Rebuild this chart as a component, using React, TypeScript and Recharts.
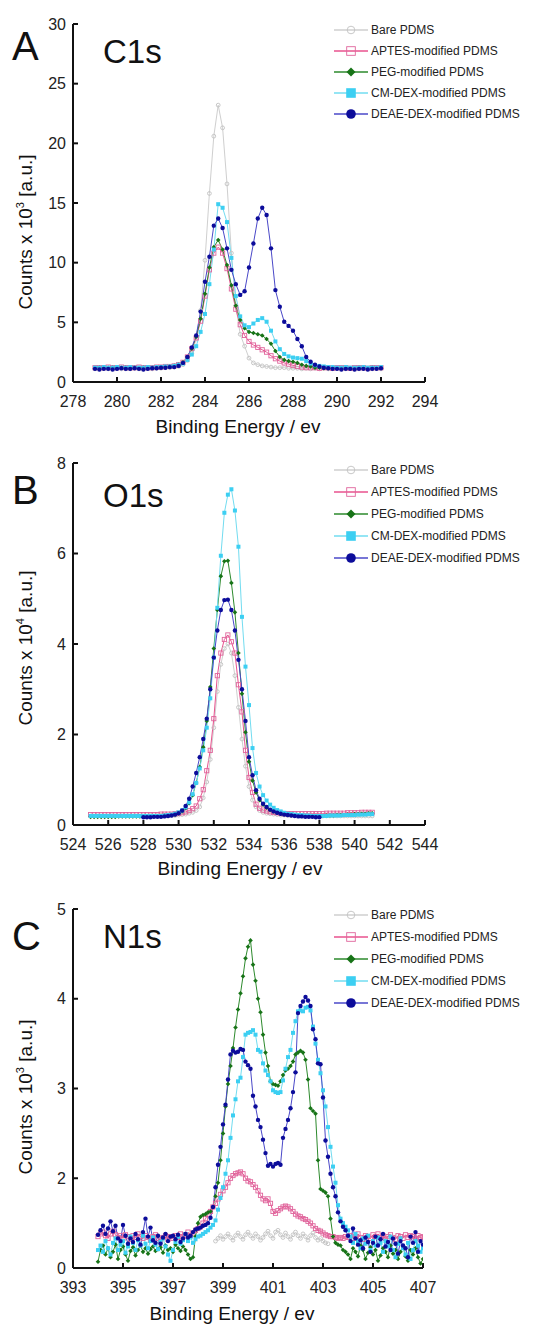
import React from 'react';
import { LineChart, Line, XAxis, YAxis, Legend } from 'recharts';

const FONT = '"Liberation Sans", Arial, Helvetica, sans-serif';

const SERIES_KEYS = ['bare', 'aptes', 'peg', 'cm', 'deae'];
const SERIES_NAMES = [
  'Bare PDMS',
  'APTES-modified PDMS',
  'PEG-modified PDMS',
  'CM-DEX-modified PDMS',
  'DEAE-DEX-modified PDMS',
];

// ---------- Panel A : C1s ----------
const A_X_START = 279;
const A_X_END = 292;
const A_STEP = 0.2;
const A_X_TICKS = [278, 280, 282, 284, 286, 288, 290, 292, 294];
const A_Y_TICKS = [0, 5, 10, 15, 20, 25, 30];
const aBare = [
  1.1, 1.1, 1.15, 1.1, 1.1, 1.15, 1.1, 1.1, 1.1, 1.15,
  1.1, 1.1, 1.15, 1.1, 1.15, 1.15, 1.2, 1.2, 1.25, 1.3,
  1.45, 1.8, 2.4, 3.6, 6.0, 10.2, 15.8, 20.6, 23.2, 21.3,
  16.6, 10.8, 6.4, 4.0, 3.0, 2.0, 1.6, 1.45, 1.35, 1.3,
  1.25, 1.2, 1.2, 1.2, 1.15, 1.15, 1.15, 1.1, 1.15, 1.1,
  1.15, 1.1, 1.15, 1.1, 1.1, 1.15, 1.1, 1.1, 1.15, 1.1,
  1.1, 1.15, 1.1, 1.1, 1.15, 1.1,
];
const aAptes = [
  1.2, 1.2, 1.2, 1.25, 1.2, 1.2, 1.25, 1.2, 1.2, 1.2,
  1.25, 1.2, 1.2, 1.2, 1.25, 1.25, 1.3, 1.3, 1.35, 1.45,
  1.65, 2.1, 2.8, 3.7, 5.1, 7.2, 9.4, 10.8, 11.3, 10.8,
  9.5, 7.8, 6.1, 4.8, 3.9, 3.4, 3.1, 2.9, 2.7, 2.5,
  2.2, 1.95, 1.75, 1.6, 1.5, 1.4, 1.3, 1.25, 1.2, 1.2,
  1.2, 1.15, 1.2, 1.2, 1.15, 1.2, 1.2, 1.2, 1.15, 1.2,
  1.2, 1.2, 1.15, 1.2, 1.2, 1.2,
];
const aPeg = [
  1.15, 1.2, 1.15, 1.2, 1.2, 1.15, 1.2, 1.2, 1.15, 1.2,
  1.2, 1.2, 1.15, 1.2, 1.2, 1.25, 1.25, 1.3, 1.35, 1.45,
  1.65, 2.1, 2.8, 3.8, 5.3, 7.4, 9.6, 11.3, 11.9, 11.1,
  9.8, 8.1, 6.4, 5.2, 4.5, 4.2, 4.1, 4.0, 3.9, 3.6,
  3.2, 2.6, 2.1, 1.85, 1.75, 1.7, 1.6, 1.45, 1.35, 1.3,
  1.2, 1.2, 1.15, 1.15, 1.2, 1.15, 1.15, 1.2, 1.15, 1.15,
  1.2, 1.15, 1.15, 1.2, 1.15, 1.2,
];
const aCm = [
  1.2, 1.2, 1.25, 1.2, 1.2, 1.25, 1.2, 1.2, 1.25, 1.2,
  1.2, 1.2, 1.25, 1.2, 1.25, 1.25, 1.3, 1.3, 1.35, 1.45,
  1.55, 1.85, 2.3, 3.0, 4.2, 5.7, 8.2, 11.1, 14.9, 14.6,
  13.4, 10.4, 7.2, 5.5, 4.75, 4.6, 4.9, 5.2, 5.35, 5.05,
  4.3, 3.4, 2.75, 2.35, 2.15, 2.05, 2.0, 1.95, 1.75, 1.55,
  1.4, 1.35, 1.3, 1.25, 1.25, 1.2, 1.2, 1.25, 1.2, 1.2,
  1.2, 1.25, 1.2, 1.2, 1.2, 1.25,
];
const aDeae = [
  1.1, 1.05, 1.1, 1.1, 1.05, 1.1, 1.15, 1.1, 1.1, 1.15,
  1.1, 1.05, 1.1, 1.15, 1.15, 1.2, 1.2, 1.25, 1.25, 1.35,
  1.6, 2.1, 2.9, 3.9, 5.9, 8.4, 10.5, 13.1, 13.7, 12.9,
  11.2, 9.4, 8.2, 7.3, 7.6, 9.6, 11.6, 13.7, 14.6, 14.0,
  11.2, 7.7, 6.3, 5.05, 4.7, 4.3, 3.6, 3.0, 2.1, 1.7,
  1.45, 1.3, 1.2, 1.15, 1.1, 1.1, 1.05, 1.1, 1.1, 1.05,
  1.1, 1.1, 1.05, 1.1, 1.1, 1.15,
];

// ---------- Panel B : O1s ----------
const B_X_START = 525;
const B_X_END = 541;
const B_STEP = 0.2;
const B_DEAE_START = 528;
const B_X_TICKS = [524, 526, 528, 530, 532, 534, 536, 538, 540, 542, 544];
const B_Y_TICKS = [0, 2, 4, 6, 8];
const bBare = [
  0.2, 0.2, 0.2, 0.2, 0.2, 0.2, 0.2, 0.2, 0.2, 0.2,
  0.2, 0.2, 0.2, 0.2, 0.2, 0.2, 0.2, 0.2, 0.2, 0.2,
  0.2, 0.2, 0.2, 0.21, 0.21, 0.22, 0.23, 0.24, 0.26, 0.28,
  0.32, 0.4, 0.6, 0.95, 1.45, 2.15, 2.95, 3.55, 3.9, 4.0,
  3.8, 3.3, 2.6, 1.9, 1.3, 0.85, 0.55, 0.4, 0.32, 0.28,
  0.26, 0.25, 0.24, 0.23, 0.22, 0.22, 0.21, 0.21, 0.21, 0.21,
  0.2, 0.2, 0.2, 0.2, 0.2, 0.2, 0.2, 0.2, 0.2, 0.2,
  0.2, 0.2, 0.2, 0.2, 0.2, 0.2, 0.2, 0.2, 0.2, 0.2,
  0.2,
];
const bAptes = [
  0.23, 0.23, 0.23, 0.23, 0.23, 0.23, 0.23, 0.23, 0.23, 0.23,
  0.23, 0.23, 0.23, 0.23, 0.23, 0.23, 0.23, 0.23, 0.23, 0.23,
  0.24, 0.24, 0.24, 0.24, 0.25, 0.26, 0.27, 0.29, 0.32, 0.36,
  0.42, 0.58, 0.78, 1.2, 1.65, 2.35, 3.3, 3.8, 4.1, 4.2,
  4.05, 3.8, 3.1, 2.5, 1.65, 1.05, 0.72, 0.46, 0.37, 0.33,
  0.31, 0.29, 0.28, 0.27, 0.26, 0.25, 0.25, 0.25, 0.25, 0.25,
  0.25, 0.25, 0.25, 0.25, 0.25, 0.25, 0.25, 0.26, 0.26, 0.26,
  0.26, 0.26, 0.26, 0.27, 0.27, 0.27, 0.27, 0.28, 0.28, 0.28,
  0.28,
];
const bPeg = [
  0.18, 0.18, 0.18, 0.18, 0.18, 0.18, 0.18, 0.18, 0.19, 0.19,
  0.19, 0.19, 0.19, 0.19, 0.19, 0.19, 0.19, 0.2, 0.2, 0.2,
  0.2, 0.21, 0.21, 0.22, 0.23, 0.26, 0.3, 0.37, 0.48, 0.66,
  0.93, 1.28, 1.72, 2.3, 3.05, 3.9, 4.75, 5.5, 5.83, 5.84,
  5.35, 4.7, 3.8, 2.9, 2.05, 1.4, 0.98, 0.72, 0.55, 0.45,
  0.38, 0.33, 0.3, 0.27, 0.25, 0.24, 0.23, 0.22, 0.21, 0.21,
  0.2, 0.2, 0.2, 0.2, 0.2, 0.2, 0.2, 0.21, 0.21, 0.21,
  0.22, 0.22, 0.22, 0.23, 0.23, 0.24, 0.24, 0.25, 0.25, 0.26,
  0.26,
];
const bCm = [
  0.2, 0.2, 0.2, 0.2, 0.2, 0.2, 0.2, 0.2, 0.2, 0.2,
  0.2, 0.2, 0.2, 0.2, 0.2, 0.2, 0.2, 0.2, 0.2, 0.2,
  0.2, 0.21, 0.22, 0.23, 0.25, 0.28, 0.32, 0.39, 0.5, 0.68,
  0.93, 1.25, 1.65, 2.15, 2.8, 3.7, 4.8, 5.95, 6.9, 7.3,
  7.42, 6.95, 6.15, 4.6, 3.5, 2.65, 1.7, 1.15, 0.85, 0.66,
  0.54, 0.45, 0.38, 0.33, 0.3, 0.27, 0.25, 0.24, 0.23, 0.22,
  0.22, 0.21, 0.21, 0.2, 0.2, 0.2, 0.2, 0.2, 0.21, 0.21,
  0.21, 0.21, 0.22, 0.22, 0.22, 0.22, 0.23, 0.23, 0.23, 0.24,
  0.24,
];
const bDeae = [
  0.17, 0.17, 0.17, 0.18, 0.18, 0.18, 0.19, 0.2, 0.21, 0.23,
  0.26, 0.32, 0.42, 0.58, 0.85, 1.15, 1.5, 1.9, 2.35, 3.0,
  3.7, 4.3, 4.75, 4.97, 4.98, 4.75, 4.3, 3.65, 3.0, 2.3,
  1.5, 1.1, 0.77, 0.58, 0.47, 0.4, 0.34, 0.3, 0.27, 0.25,
  0.23, 0.22, 0.21, 0.2, 0.19, 0.19, 0.18, 0.18, 0.18, 0.17,
  0.17,
];

// ---------- Panel C : N1s ----------
const C_X_START = 394;
const C_X_END = 407;
const C_STEP = 0.1;
const C_BARE_START = 398.7;
const C_X_TICKS = [393, 395, 397, 399, 401, 403, 405, 407];
const C_Y_TICKS = [1, 2, 3, 4, 5];
const C_Y_TICK_LABELS = ['0', '2', '3', '4', '5'];
const cBare = [
  1.30, 1.33, 1.36, 1.32, 1.35, 1.38, 1.34, 1.31, 1.36, 1.39,
  1.35, 1.32, 1.37, 1.40, 1.36, 1.33, 1.38, 1.35, 1.31, 1.34,
  1.38, 1.41, 1.36, 1.33, 1.40, 1.42, 1.37, 1.34, 1.39, 1.35,
  1.32, 1.37, 1.40, 1.36, 1.33, 1.38, 1.35, 1.31, 1.36, 1.39,
  1.34, 1.31, 1.33, 1.30, 1.28, 1.27,
];
const cAptes = [
  1.35, 1.38, 1.40, 1.36, 1.33, 1.38, 1.41, 1.37, 1.34, 1.36,
  1.33, 1.37, 1.35, 1.32, 1.36, 1.34, 1.38, 1.35, 1.33, 1.36,
  1.34, 1.31, 1.35, 1.37, 1.33, 1.30, 1.34, 1.36, 1.32, 1.35,
  1.33, 1.36, 1.34, 1.38, 1.35, 1.37, 1.40, 1.36, 1.39, 1.42,
  1.44, 1.46, 1.50, 1.55, 1.60, 1.63, 1.68, 1.72, 1.77, 1.82,
  1.86, 1.90, 1.95, 2.00, 2.03, 2.05, 2.06, 2.07, 2.05, 2.00,
  1.97, 1.96, 1.93, 1.90, 1.86, 1.81, 1.77, 1.75, 1.77, 1.72,
  1.63, 1.61, 1.64, 1.66, 1.68, 1.69, 1.68, 1.66, 1.63, 1.60,
  1.58, 1.57, 1.55, 1.54, 1.52, 1.50, 1.47, 1.44, 1.42, 1.41,
  1.39, 1.37, 1.36, 1.35, 1.35, 1.34, 1.33, 1.34, 1.33, 1.35,
  1.34, 1.36, 1.33, 1.35, 1.38, 1.34, 1.32, 1.36, 1.35, 1.33,
  1.37, 1.35, 1.38, 1.34, 1.36, 1.33, 1.35, 1.37, 1.34, 1.32,
  1.36, 1.35, 1.33, 1.37, 1.34, 1.36, 1.35, 1.33, 1.36, 1.34,
  1.35,
];
const cPeg = [
  1.07, 1.20, 1.25, 1.15, 1.22, 1.12, 1.18, 1.26, 1.10, 1.20,
  1.24, 1.15, 1.08, 1.19, 1.23, 1.14, 1.20, 1.25, 1.18, 1.22,
  1.16, 1.21, 1.24, 1.19, 1.21, 1.23, 1.17, 1.25, 1.20, 1.22,
  1.18, 1.26, 1.22, 1.19, 1.24, 1.20, 1.15, 1.10, 1.12, 1.35,
  1.50, 1.57, 1.59, 1.60, 1.62, 1.63, 1.68, 1.80, 1.95, 2.20,
  2.50, 2.80, 3.05, 3.25, 3.45, 3.68, 3.88, 4.06, 4.25, 4.45,
  4.58, 4.65, 4.38, 4.20, 4.00, 3.85, 3.60, 3.40, 3.25, 3.08,
  3.05, 3.04, 3.03, 3.08, 3.15, 3.20, 3.22, 3.25, 3.30, 3.38,
  3.40, 3.42, 3.40, 3.32, 3.10, 2.78, 2.75, 2.72, 2.20, 1.88,
  1.86, 1.84, 1.80, 1.55, 1.35, 1.28, 1.26, 1.25, 1.20, 1.18,
  1.15, 1.10, 1.22, 1.18, 1.13, 1.25, 1.20, 1.10, 1.17, 1.23,
  1.15, 1.20, 1.08, 1.14, 1.22, 1.18, 1.12, 1.25, 1.16, 1.20,
  1.10, 1.18, 1.24, 1.13, 1.08, 1.20, 1.15, 1.22, 1.12, 1.05,
  1.10,
];
const cCm = [
  1.20, 1.25, 1.18, 1.30, 1.22, 1.15, 1.28, 1.33, 1.20, 1.26,
  1.30, 1.17, 1.24, 1.35, 1.28, 1.20, 1.31, 1.25, 1.36, 1.27,
  1.22, 1.30, 1.34, 1.26, 1.21, 1.29, 1.33, 1.24, 1.15, 1.08,
  1.20, 1.29, 1.35, 1.27, 1.31, 1.38, 1.30, 1.34, 1.28, 1.32,
  1.35, 1.36, 1.38, 1.40, 1.42, 1.45, 1.48, 1.53, 1.65, 1.78,
  1.90, 2.05, 2.20, 2.45, 2.70, 2.88, 3.08, 3.12, 3.35, 3.60,
  3.62, 3.63, 3.65, 3.60, 3.43, 3.41, 3.28, 3.20, 3.15, 3.08,
  2.98, 2.96, 2.95, 2.96, 3.09, 3.22, 3.35, 3.43, 3.62, 3.75,
  3.86, 3.87, 3.86, 3.90, 3.91, 3.87, 3.69, 3.50, 3.32, 3.17,
  2.98, 2.80, 2.57, 2.35, 2.13, 1.95, 1.70, 1.55, 1.50, 1.46,
  1.42, 1.35, 1.28, 1.38, 1.30, 1.22, 1.33, 1.27, 1.36, 1.20,
  1.30, 1.25, 1.34, 1.28, 1.18, 1.30, 1.24, 1.35, 1.20, 1.12,
  1.27, 1.33, 1.22, 1.15, 1.28, 1.10, 1.20, 1.30, 1.25, 1.18,
  1.22,
];
const cDeae = [
  1.37, 1.42, 1.47, 1.38, 1.44, 1.52, 1.41, 1.47, 1.33, 1.30,
  1.48, 1.36, 1.27, 1.33, 1.29, 1.38, 1.32, 1.26, 1.40, 1.55,
  1.35, 1.45, 1.31, 1.28, 1.36, 1.27, 1.34, 1.38, 1.30, 1.35,
  1.36, 1.32, 1.37, 1.29, 1.33, 1.38, 1.34, 1.36, 1.40, 1.43,
  1.44, 1.45, 1.47, 1.48, 1.50, 1.56, 1.68, 1.90, 2.15, 2.35,
  2.60, 2.82, 3.10, 3.38, 3.42, 3.40, 3.41, 3.44, 3.43, 3.30,
  3.26, 3.22, 2.92, 2.80, 2.65, 2.57, 2.43, 2.28, 2.14, 2.16,
  2.13, 2.16, 2.17, 2.15, 2.45, 2.55, 2.65, 2.78, 2.96, 3.18,
  3.84, 3.92, 3.97, 4.02, 3.98, 3.92, 3.66, 3.55, 3.28, 3.27,
  2.90, 2.42, 2.24, 2.05, 1.90, 1.80, 1.62, 1.52, 1.46, 1.42,
  1.36, 1.30, 1.44, 1.33, 1.26, 1.31, 1.22, 1.34, 1.29, 1.18,
  1.28, 1.35, 1.25, 1.32, 1.38, 1.24, 1.29, 1.20, 1.33, 1.27,
  1.16, 1.30, 1.25, 1.22, 1.12, 1.35, 1.28, 1.40, 1.18, 1.30,
  1.26,
];

// ---------- styling ----------
type Kind = 'openCircle' | 'openSquare' | 'diamond' | 'square' | 'circle';
const STYLES: Record<string, { line: string; mark: string; kind: Kind; size: number; legendSize: number }> = {
  bare: { line: '#cfcfcf', mark: '#c2c2c2', kind: 'openCircle', size: 1.9, legendSize: 3.8 },
  aptes: { line: '#e8528e', mark: '#e0649c', kind: 'openSquare', size: 2.1, legendSize: 4.3 },
  peg: { line: '#2d8a2d', mark: '#177317', kind: 'diamond', size: 2.3, legendSize: 4.5 },
  cm: { line: '#72dcf0', mark: '#3ccff2', kind: 'square', size: 2.0, legendSize: 4.8 },
  deae: { line: '#4a48c8', mark: '#0c0c9a', kind: 'circle', size: 2.2, legendSize: 4.8 },
};

function markerShape(kind: Kind, color: string, x: number, y: number, s: number, key?: string) {
  switch (kind) {
    case 'openCircle':
      return <circle key={key} cx={x} cy={y} r={s} fill="none" stroke={color} strokeWidth={0.9} />;
    case 'openSquare':
      return <rect key={key} x={x - s} y={y - s} width={2 * s} height={2 * s} fill="none" stroke={color} strokeWidth={0.9} />;
    case 'diamond':
      return <polygon key={key} points={`${x},${y - s} ${x + s},${y} ${x},${y + s} ${x - s},${y}`} fill={color} />;
    case 'square':
      return <rect key={key} x={x - s} y={y - s} width={2 * s} height={2 * s} fill={color} />;
    default:
      return <circle key={key} cx={x} cy={y} r={s} fill={color} />;
  }
}

const dotFor = (k: string) => (p: any) => {
  const { cx, cy, index } = p;
  if (typeof cx !== 'number' || typeof cy !== 'number' || !isFinite(cx) || !isFinite(cy) || p.value == null) {
    return <g key={`n${index}`} />;
  }
  const st = STYLES[k];
  return markerShape(st.kind, st.mark, cx, cy, st.size, `d${index}`);
};

type SeriesDef = { start: number; values: number[] };

function buildRows(start: number, end: number, step: number, series: Record<string, SeriesDef>) {
  const n = Math.round((end - start) / step) + 1;
  const rows: any[] = [];
  for (let i = 0; i < n; i++) {
    const e = +(start + i * step).toFixed(2);
    const row: any = { e };
    for (const k of Object.keys(series)) {
      const s = series[k];
      const j = Math.round((e - s.start) / step);
      row[k] = j >= 0 && j < s.values.length ? s.values[j] : null;
    }
    rows.push(row);
  }
  return rows;
}

const rowsA = buildRows(A_X_START, A_X_END, A_STEP, {
  bare: { start: A_X_START, values: aBare },
  aptes: { start: A_X_START, values: aAptes },
  peg: { start: A_X_START, values: aPeg },
  cm: { start: A_X_START, values: aCm },
  deae: { start: A_X_START, values: aDeae },
});
const rowsB = buildRows(B_X_START, B_X_END, B_STEP, {
  bare: { start: B_X_START, values: bBare },
  aptes: { start: B_X_START, values: bAptes },
  peg: { start: B_X_START, values: bPeg },
  cm: { start: B_X_START, values: bCm },
  deae: { start: B_DEAE_START, values: bDeae },
});
const rowsC = buildRows(C_X_START, C_X_END, C_STEP, {
  bare: { start: C_BARE_START, values: cBare },
  aptes: { start: C_X_START, values: cAptes },
  peg: { start: C_X_START, values: cPeg },
  cm: { start: C_X_START, values: cCm },
  deae: { start: C_X_START, values: cDeae },
});

function LegendBox({ rowH }: { rowH: number }) {
  return (
    <div style={{ fontFamily: FONT, fontSize: 12, color: '#222' }}>
      {SERIES_KEYS.map((k, i) => {
        const st = STYLES[k];
        return (
          <div key={k} style={{ display: 'flex', alignItems: 'center', height: rowH }}>
            <svg width={36} height={14} style={{ display: 'block', overflow: 'visible' }}>
              <line x1={1} y1={7} x2={35} y2={7} stroke={st.line} strokeWidth={1.3} />
              {markerShape(st.kind, st.mark, 18, 7, st.legendSize)}
            </svg>
            <span style={{ marginLeft: 2, whiteSpace: 'nowrap' }}>{SERIES_NAMES[i]}</span>
          </div>
        );
      })}
    </div>
  );
}

type PanelProps = {
  top: number;
  height: number;
  margin: { top: number; right: number; bottom: number; left: number };
  rows: any[];
  xDomain: [number, number];
  xTicks: number[];
  yDomain: [number, number];
  yTicks: number[];
  yFmt?: (v: number) => string;
  legendTop: number;
  legendRowH: number;
};

const AXIS_STROKE = { stroke: '#111', strokeWidth: 2 };
const TICK_STYLE = { fontSize: 16, fill: '#222', fontFamily: FONT };

function Panel(p: PanelProps) {
  return (
    <div style={{ position: 'absolute', left: 0, top: p.top, width: 540, height: p.height }}>
      <LineChart width={540} height={p.height} data={p.rows} margin={p.margin}>
        <XAxis
          type="number"
          dataKey="e"
          domain={p.xDomain}
          ticks={p.xTicks}
          interval={0}
          allowDataOverflow
          height={30}
          axisLine={AXIS_STROKE}
          tickLine={AXIS_STROKE}
          tickSize={-5}
          tickMargin={19}
          tick={TICK_STYLE}
        />
        <YAxis
          type="number"
          domain={p.yDomain}
          ticks={p.yTicks}
          interval={0}
          allowDataOverflow
          width={40}
          axisLine={AXIS_STROKE}
          tickLine={AXIS_STROKE}
          tickSize={-5}
          tickMargin={12}
          tick={TICK_STYLE}
          tickFormatter={p.yFmt}
        />
        {SERIES_KEYS.map((k, i) => (
          <Line
            key={k}
            type="linear"
            dataKey={k}
            name={SERIES_NAMES[i]}
            stroke={STYLES[k].line}
            strokeWidth={1}
            dot={dotFor(k)}
            activeDot={false}
            connectNulls={false}
            isAnimationActive={false}
          />
        ))}
        <Legend
          layout="vertical"
          align="center"
          verticalAlign="middle"
          wrapperStyle={{ left: 333, top: p.legendTop, width: 207 }}
          content={() => <LegendBox rowH={p.legendRowH} />}
        />
      </LineChart>
    </div>
  );
}

function YLabel({ x, y, exp }: { x: number; y: number; exp: string }) {
  return (
    <text transform={`translate(${x},${y}) rotate(-90)`} textAnchor="middle" fontSize={19}>
      Counts x 10
      <tspan dy={-8} fontSize={11}>{exp}</tspan>
      <tspan dy={8}> [a.u.]</tspan>
    </text>
  );
}

export default function App() {
  const fmtC = (v: number) => {
    const idx = C_Y_TICKS.indexOf(v);
    return idx >= 0 ? C_Y_TICK_LABELS[idx] : String(v);
  };
  return (
    <div style={{ position: 'absolute', left: 0, top: 0, width: 540, height: 1325, background: '#fff', overflow: 'hidden' }}>
      <Panel
        top={0}
        height={440}
        margin={{ top: 24, right: 115, bottom: 28, left: 33 }}
        rows={rowsA}
        xDomain={[278, 294]}
        xTicks={A_X_TICKS}
        yDomain={[0, 30]}
        yTicks={A_Y_TICKS}
        legendTop={19}
        legendRowH={21}
      />
      <Panel
        top={440}
        height={445}
        margin={{ top: 23, right: 115, bottom: 30, left: 33 }}
        rows={rowsB}
        xDomain={[524, 544]}
        xTicks={B_X_TICKS}
        yDomain={[0, 8]}
        yTicks={B_Y_TICKS}
        legendTop={19}
        legendRowH={22}
      />
      <Panel
        top={885}
        height={440}
        margin={{ top: 24, right: 117, bottom: 27, left: 33 }}
        rows={rowsC}
        xDomain={[393, 407]}
        xTicks={C_X_TICKS}
        yDomain={[1, 5]}
        yTicks={C_Y_TICKS}
        yFmt={fmtC}
        legendTop={19}
        legendRowH={22}
      />
      <svg width={540} height={1325} style={{ position: 'absolute', left: 0, top: 0, pointerEvents: 'none' }}>
        <g fontFamily={FONT} fill="#111">
          <text x={12} y={60} fontSize={40}>A</text>
          <text x={103} y={63} fontSize={33}>C1s</text>
          <text x={12} y={504} fontSize={40}>B</text>
          <text x={103} y={507} fontSize={33}>O1s</text>
          <text x={12} y={950} fontSize={40}>C</text>
          <text x={103} y={948} fontSize={33}>N1s</text>
          <text x={238} y={433} fontSize={19} textAnchor="middle">Binding Energy / ev</text>
          <text x={240} y={875} fontSize={19} textAnchor="middle">Binding Energy / ev</text>
          <text x={232} y={1320} fontSize={19} textAnchor="middle">Binding Energy / ev</text>
          <YLabel x={32} y={232} exp="3" />
          <YLabel x={32} y={648} exp="4" />
          <YLabel x={32} y={1097} exp="3" />
        </g>
      </svg>
    </div>
  );
}
